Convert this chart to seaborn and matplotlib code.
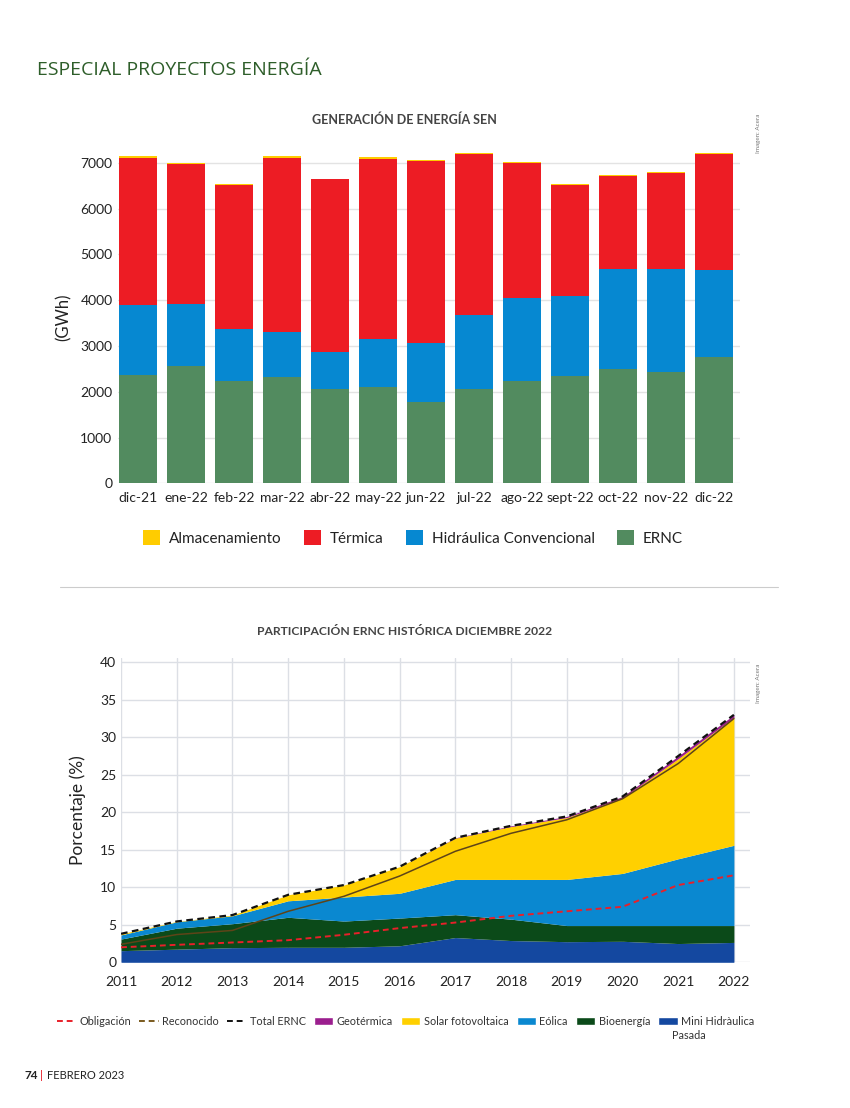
import numpy as np
import pandas as pd
import matplotlib
matplotlib.use("Agg")
import matplotlib.pyplot as plt
import seaborn as sns
from matplotlib.patches import Patch
from matplotlib.lines import Line2D

# datos gráfico 1 (GWh)
meses = ['dic-21', 'ene-22', 'feb-22', 'mar-22', 'abr-22', 'may-22', 'jun-22',
         'jul-22', 'ago-22', 'sept-22', 'oct-22', 'nov-22', 'dic-22']
ernc = [2365, 2555, 2233, 2321, 2052, 2096, 1782, 2059, 2227, 2349, 2496, 2437, 2765]
hidraulica = [1521, 1360, 1136, 989, 808, 1048, 1281, 1616, 1825, 1740, 2183, 2242, 1886]
termica = [3223, 3063, 3137, 3799, 3777, 3930, 3974, 3515, 2941, 2424, 2031, 2103, 2539]
almacenamiento = [30, 17, 35, 44, 15, 44, 23, 20, 15, 22, 15, 15, 20]

# datos gráfico 2 (%)
anios = [2011, 2012, 2013, 2014, 2015, 2016, 2017, 2018, 2019, 2020, 2021, 2022]
mini_hidro = [1.55, 1.75, 1.95, 2.0, 2.0, 2.2, 3.3, 2.9, 2.75, 2.8, 2.5, 2.65]
bioenergia = [1.55, 2.8, 3.2, 4.0, 3.5, 3.7, 3.05, 2.85, 2.15, 2.1, 2.4, 2.25]
eolica = [0.55, 0.85, 1.05, 2.2, 3.2, 3.3, 4.7, 5.3, 6.15, 6.95, 8.9, 10.7]
solar = [0.15, 0.05, 0.1, 0.8, 1.6, 3.55, 5.5, 7.05, 8.25, 10.05, 13.35, 17.05]
geotermica = [0, 0, 0, 0, 0, 0, 0.05, 0.1, 0.15, 0.2, 0.35, 0.35]
obligacion = [2.0, 2.33, 2.64, 2.95, 3.67, 4.56, 5.3, 6.2, 6.8, 7.4, 10.3, 11.6]
reconocido = [2.4, 3.7, 4.25, 6.8, 8.8, 11.5, 14.8, 17.2, 19.0, 21.8, 26.5, 32.5]
total_ernc = [3.8, 5.45, 6.3, 9.0, 10.3, 12.75, 16.6, 18.2, 19.45, 22.1, 27.5, 33.0]

sns.set_style("white")
plt.rcParams['font.family'] = ['Lato', 'DejaVu Sans']

fig = plt.figure(figsize=(8.5, 11.08), dpi=100)

# colores
c_alm, c_ter, c_hid, c_ern = '#FFCC00', '#ED1C24', '#0688D1', '#528B5F'
c_geo, c_sol, c_eol, c_bio, c_min = '#9B1E8E', '#FFD000', '#0A88D0', '#0B4A19', '#1448A0'

# ---------- gráfico 1 ----------
ax1 = fig.add_axes([0.1388, 0.5637, 0.7318, 0.2998])
df = pd.DataFrame({'mes': meses, 'ERNC': ernc, 'Hidráulica Convencional': hidraulica,
                   'Térmica': termica, 'Almacenamiento': almacenamiento})
capas = ['ERNC', 'Hidráulica Convencional', 'Térmica', 'Almacenamiento']
colores1 = [c_ern, c_hid, c_ter, c_alm]
acum = df[capas].cumsum(axis=1)
for capa, col in reversed(list(zip(capas, colores1))):
    sns.barplot(x=df['mes'], y=acum[capa], color=col, width=0.78, ax=ax1,
                saturation=1, linewidth=0, order=meses)
ax1.set_xlim(-0.42, 12.54)
ax1.set_ylim(0, 7250)
ax1.set_yticks(range(0, 7001, 1000))
ax1.yaxis.grid(True, color='#E3E3E3', linewidth=1)
ax1.set_axisbelow(True)
for s in ax1.spines.values():
    s.set_visible(False)
ax1.tick_params(axis='both', length=0, labelsize=10, colors='#222222')
ax1.tick_params(axis='x', pad=6)
ax1.tick_params(axis='y', pad=4)
ax1.set_xlabel('')
ax1.set_ylabel('(GWh)', fontsize=12, color='#222222', labelpad=6)

fig.text(0.476, 0.892, 'GENERACIÓN DE ENERGÍA SEN', ha='center', va='center',
         fontsize=9, fontweight='bold', color='#444444')
fig.text(0.043, 0.937, 'ESPECIAL PROYECTOS ENERGÍA', ha='left', va='center',
         fontsize=14, color='#2E5E2A', family=['Open Sans', 'DejaVu Sans'])

h1 = [Patch(facecolor=c, edgecolor='none') for c in [c_alm, c_ter, c_hid, c_ern]]
fig.legend(h1, ['Almacenamiento', 'Térmica', 'Hidráulica Convencional', 'ERNC'],
           loc='center', bbox_to_anchor=(0.486, 0.5145), ncol=4, frameon=False,
           fontsize=11, handlelength=1.1, handleheight=1.1, handletextpad=0.6,
           columnspacing=1.45, labelcolor='#222222')

fig.add_artist(Line2D([0.07, 0.915], [0.4702, 0.4702], color='#CCCCCC', linewidth=0.8))

# ---------- gráfico 2 ----------
ax2 = fig.add_axes([0.1424, 0.1315, 0.740, 0.2748])
ax2.stackplot(anios, mini_hidro, bioenergia, eolica, solar, geotermica,
              colors=[c_min, c_bio, c_eol, c_sol, c_geo], linewidth=0)
sns.lineplot(x=anios, y=obligacion, color='#E8202A', linestyle=(0, (3, 2)), linewidth=1.4, ax=ax2)
sns.lineplot(x=anios, y=reconocido, color='#5E4418', linewidth=1.1, ax=ax2)
sns.lineplot(x=anios, y=total_ernc, color='#111111', linestyle=(0, (3, 2)), linewidth=1.6, ax=ax2)
ax2.set_xlim(2011, 2022.29)
ax2.set_ylim(0, 40.6)
ax2.set_xticks(anios)
ax2.set_yticks(range(0, 41, 5))
ax2.grid(True, color='#DCDFE5', linewidth=1)
ax2.set_axisbelow(True)
for s in ax2.spines.values():
    s.set_visible(False)
ax2.tick_params(axis='both', length=0, labelsize=10, colors='#222222')
ax2.tick_params(axis='x', pad=10)
ax2.set_ylabel('Porcentaje (%)', fontsize=12.5, color='#222222', labelpad=10)

fig.text(0.476, 0.4305, 'PARTICIPACIÓN ERNC HISTÓRICA DICIEMBRE 2022', ha='center', va='center',
         fontsize=8.7, fontweight='bold', color='#444444')

h2 = [Line2D([0], [0], color='#E8202A', linestyle=(0, (3, 2)), linewidth=1.4),
      Line2D([0], [0], color='#7A5A1E', linestyle=(0, (3, 2)), linewidth=1.4),
      Line2D([0], [0], color='#111111', linestyle=(0, (3, 2)), linewidth=1.4),
      Patch(facecolor=c_geo), Patch(facecolor=c_sol), Patch(facecolor=c_eol),
      Patch(facecolor=c_bio), Patch(facecolor=c_min)]
leg2 = fig.legend(h2, ['Obligación', 'Reconocido', 'Total ERNC', 'Geotérmica', 'Solar fotovoltaica',
                       'Eólica', 'Bioenergía', 'Mini Hidràulica'],
                  loc='center', bbox_to_anchor=(0.477, 0.0785), ncol=8, frameon=False,
                  fontsize=7.8, handlelength=1.8, handleheight=0.8, handletextpad=0.3,
                  columnspacing=0.75, labelcolor='#333333')
fig.text(0.791, 0.0655, 'Pasada', fontsize=7.8, color='#333333', ha='left', va='center')

for yy in [0.88, 0.383]:
    fig.text(0.892, yy, 'Imagen: Acera', rotation=90, ha='center', va='center',
             fontsize=4.5, color='#777777')

fig.text(0.029, 0.0295, '74', fontsize=8.5, fontweight='bold', color='#222222', va='center')
fig.text(0.047, 0.0295, '|', fontsize=8.5, color='#E8202A', va='center')
fig.text(0.055, 0.0295, 'FEBRERO 2023', fontsize=8, color='#222222', va='center')

fig.savefig('out.png', dpi=100)
